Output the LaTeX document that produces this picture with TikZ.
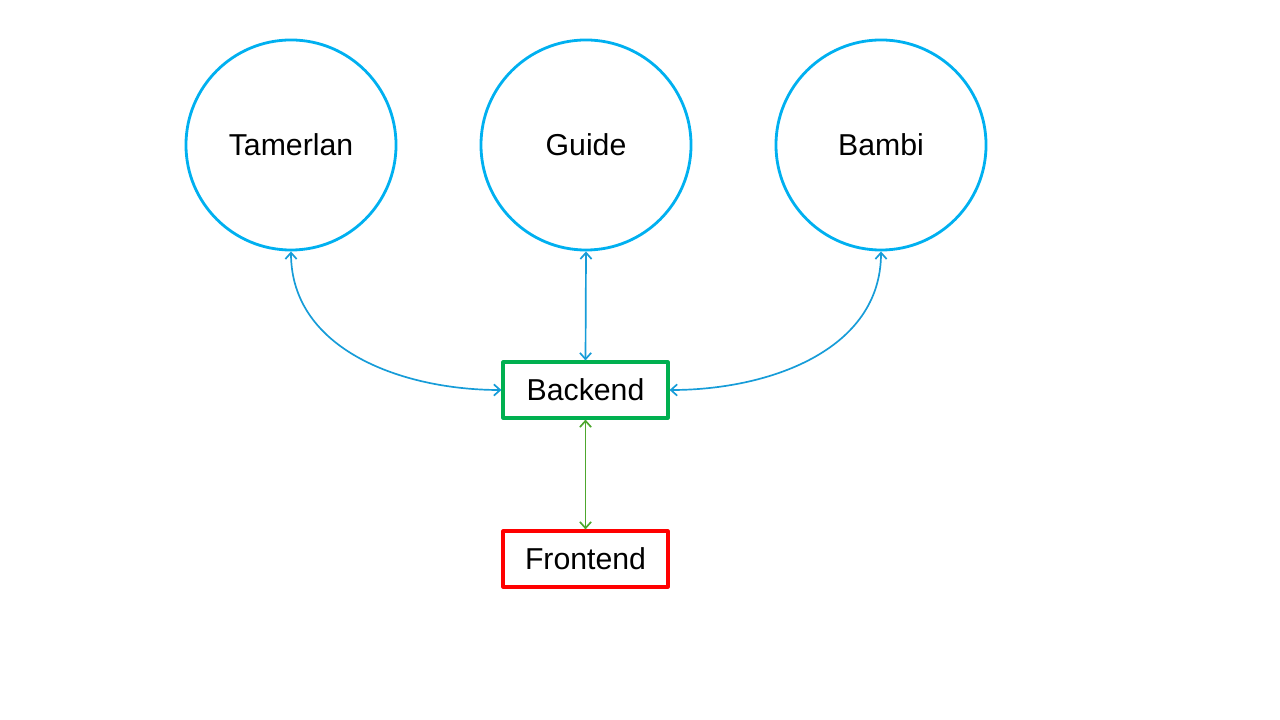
\documentclass[tikz,border=0pt]{standalone}
\usepackage{fontspec}
\setmainfont{Liberation Sans}
\usepackage{tikz}
\usetikzlibrary{arrows.meta}

\definecolor{ringblue}{RGB}{0,176,240}
\definecolor{linkblue}{RGB}{22,156,216}
\definecolor{boxgreen}{RGB}{0,176,80}
\definecolor{linkgreen}{RGB}{78,167,46}

\begin{document}
\begin{tikzpicture}[x=0.025cm, y=-0.025cm, line join=round, line cap=round,
	>={Straight Barb[length=4.5pt,width=8pt]}, font=\fontsize{21.5}{26}\selectfont,
	service/.style={circle, draw=ringblue, line width=2pt, minimum size=5.25cm, inner sep=0pt},
	tier/.style={rectangle, draw=#1, line width=2.2pt, minimum width=4.125cm, minimum height=1.4cm, inner sep=0pt},
	link/.style={<->, line width=1.2pt, draw=#1}]
	\useasboundingbox (0,0) rectangle (1280,720);
	% Dịch vụ phía trên
	\node[service] (tamerlan) at (291,145) {Tamerlan};
	\node[service] (guide) at (586,145) {Guide};
	\node[service] (bambi) at (881,145) {Bambi};
	% Hai tầng ứng dụng
	\node[tier=boxgreen] (backend) at (585.5,390) {Backend};
	\node[tier=red] (frontend) at (585.5,559) {Frontend};
	% Kết nối
	\draw[link=linkblue] (tamerlan.south) to[out=-90, in=180] (backend.west);
	\draw[link=linkblue] (guide.south) -- (backend.north);
	\draw[link=linkblue] (bambi.south) to[out=-90, in=0] (backend.east);
	\draw[link=linkgreen] (backend.south) -- (frontend.north);
\end{tikzpicture}
\end{document}
